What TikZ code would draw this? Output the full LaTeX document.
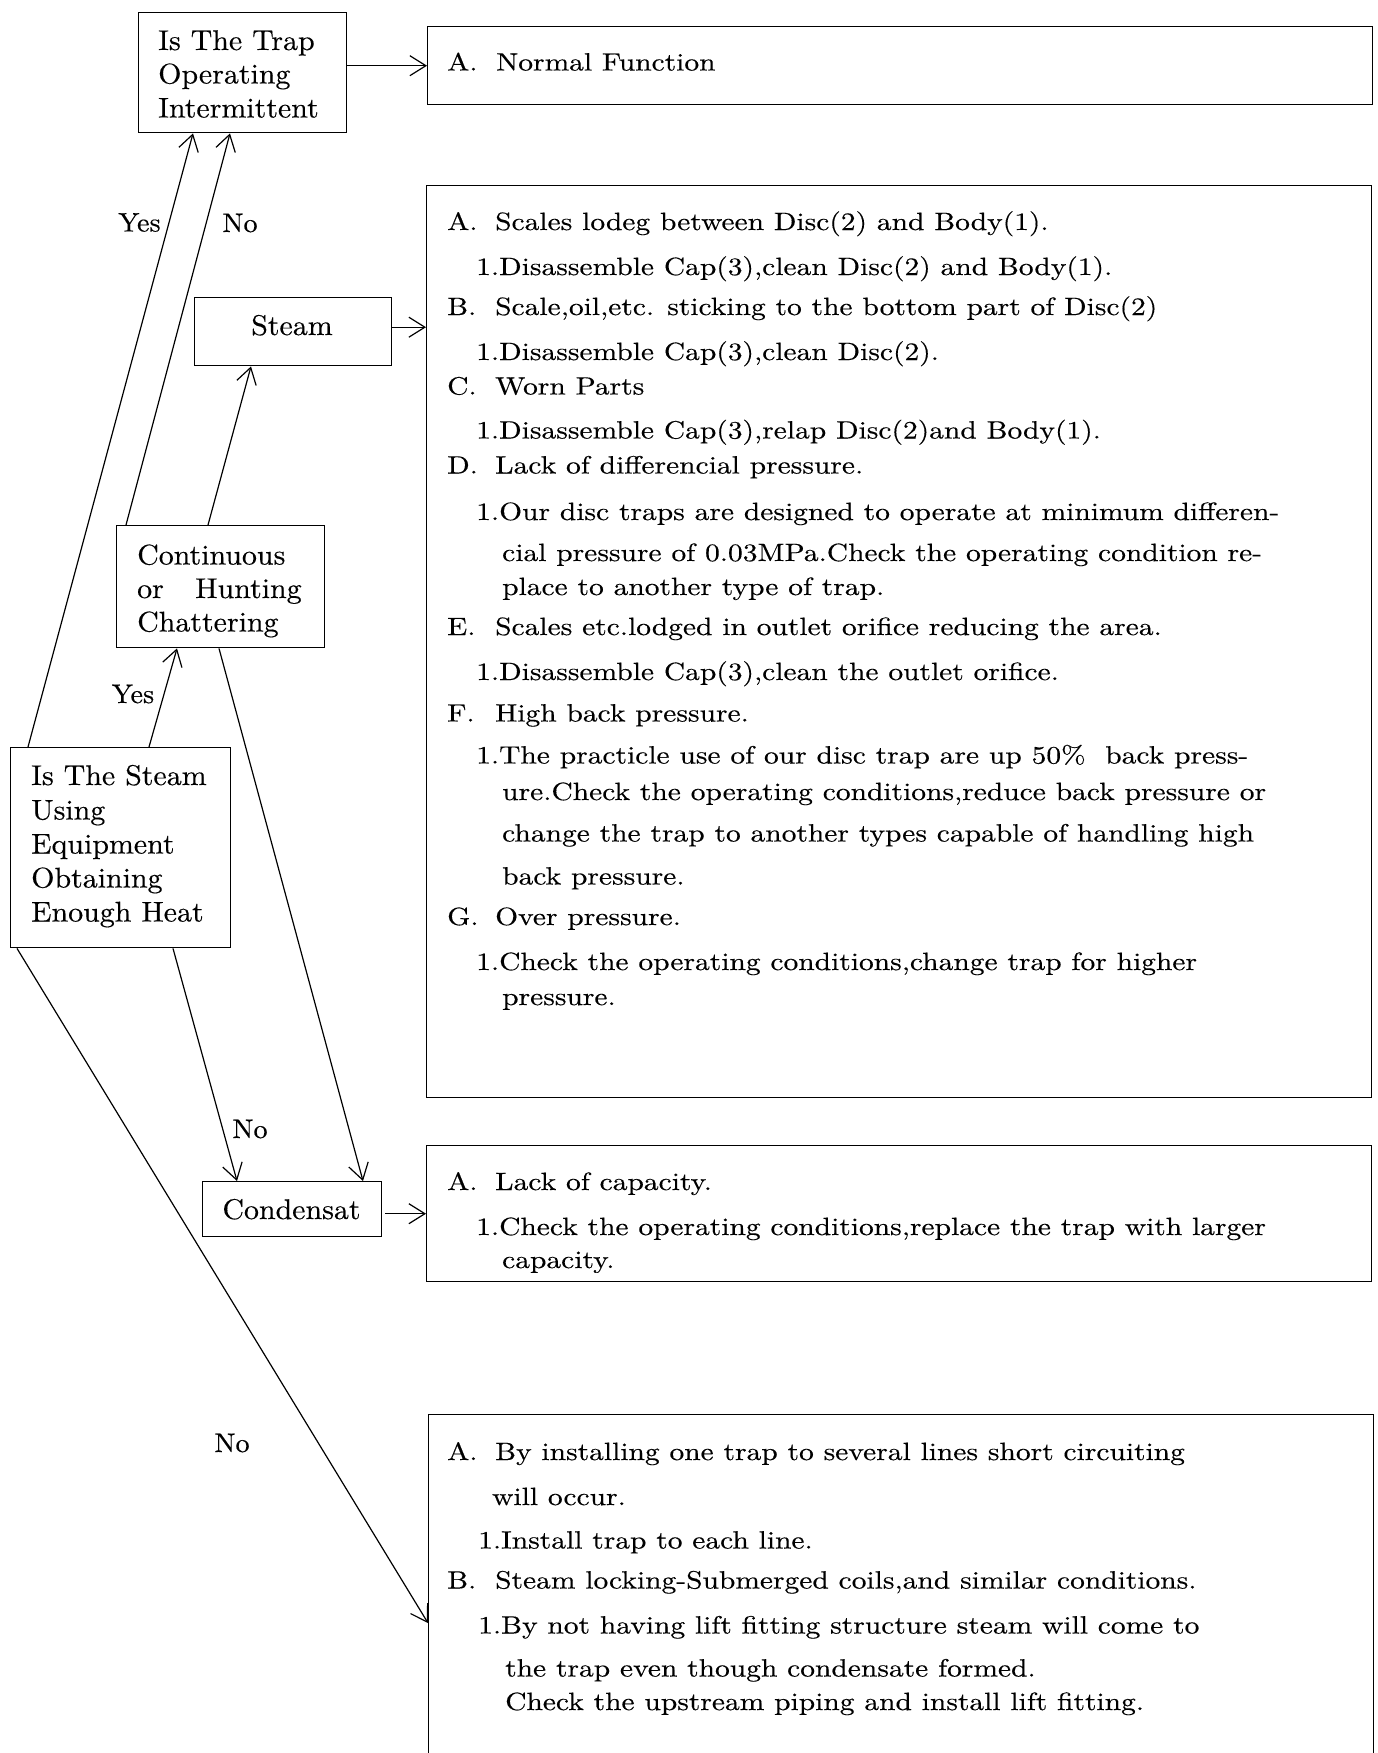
\documentclass[tikz,border=0pt]{standalone}
\usepackage{fontspec}
\newfontfamily\widefont{lmroman10-regular.otf}[FakeStretch=1.18,FakeBold=0.3]
\newfontfamily\boxfont{lmroman10-regular.otf}[FakeStretch=1.05,FakeBold=0.3]
\usetikzlibrary{arrows.meta,calc}
\begin{document}
\begin{tikzpicture}[x=1pt,y=-1pt,
  box/.style={draw, line width=1.4pt, rectangle, inner sep=0pt, anchor=north west},
  conn/.style={line width=1.2pt, -{Straight Barb[length=16pt,width=20pt,line width=1.2pt]}},
  rt/.style={anchor=base west, inner sep=0pt, font=\widefont\fontsize{25}{30}\selectfont},
  lt/.style={anchor=base west, inner sep=0pt, font=\boxfont\fontsize{28.5}{33}\selectfont},
  lab/.style={anchor=center, inner sep=0pt, font=\boxfont\fontsize{26.8}{31}\selectfont},
]
\useasboundingbox (0,0) rectangle (1378,1753);
\clip (0,0) rectangle (1378,1753);

% boxes
\node[box, minimum width=208pt, minimum height=120pt] (trap) at (138,12) {};
\node[box, minimum width=945pt, minimum height=78pt] (normal) at (427,26) {};
\node[box, minimum width=197pt, minimum height=68pt] (steam) at (194,297) {};
\node[box, minimum width=945pt, minimum height=912pt] (bigsteam) at (426,185) {};
\node[box, minimum width=208pt, minimum height=122pt] (cont) at (116,525) {};
\node[box, minimum width=220pt, minimum height=200pt] (usedeq) at (10,747) {};
\node[box, minimum width=179pt, minimum height=55pt] (cond) at (202,1181) {};
\node[box, minimum width=945pt, minimum height=136pt] (bigcond) at (426,1145) {};
\node[box, minimum width=945pt, minimum height=420pt] (bigno) at (428,1414) {};

% left box texts
\node[lt] (trapA) at (158,50) {Is The Trap};
\node[lt] (trapB) at (158,83.5) {Operating};
\node[lt] (trapC) at (158,117.5) {Intermittent};
\node[lt, anchor=base] (steamT) at (292,335) {Steam};
\node[lt] (c1) at (137,564.5) {Continuous};
\node[lt] (c2) at (137,598) {\makebox[58pt][l]{or}Hunting};
\node[lt] (c3) at (137,631.5) {Chattering};
\node[lt] (u1) at (31,785) {Is The Steam};
\node[lt] (u2) at (31,819.5) {Using};
\node[lt] (u3) at (31,853.5) {Equipment};
\node[lt] (u4) at (31,887.5) {Obtaining};
\node[lt] (u5) at (31,921.5) {Enough Heat};
\node[lt, anchor=base] (condT) at (291.5,1219) {Condensat};

% labels
\node[lab] (yes1) at (139.5,222.5) {Yes};
\node[lab] (no1) at (240,223) {No};
\node[lab] (yes2) at (133,694) {Yes};
\node[lab] (no2) at (250,1129) {No};
\node[lab] (no3) at (232,1443) {No};

% normal function
\node[rt] (nf1) at (447,70.5) {\makebox[49pt][l]{A.}Normal Function};

% steam causes
\node[rt] (s1) at (447,230) {\makebox[48pt][l]{A.}Scales lodeg between Disc(2) and Body(1).};
\node[rt] (s2) at (476,275) {1.Disassemble Cap(3),clean Disc(2) and Body(1).};
\node[rt] (s3) at (447,315) {\makebox[48pt][l]{B.}Scale,oil,etc. sticking to the bottom part of Disc(2)};
\node[rt] (s4) at (476,360) {1.Disassemble Cap(3),clean Disc(2).};
\node[rt] (s5) at (447,394.5) {\makebox[48pt][l]{C.}Worn Parts};
\node[rt] (s6) at (476,438.5) {1.Disassemble Cap(3),relap Disc(2)and Body(1).};
\node[rt] (s7) at (447,473.5) {\makebox[48pt][l]{D.}Lack of differencial pressure.};
\node[rt] (s8) at (476,520) {1.Our disc traps are designed to operate at minimum differen-};
\node[rt] (s9) at (502,561) {cial pressure of 0.03MPa.Check the operating condition re-};
\node[rt] (s10) at (502,595) {place to another type of trap.};
\node[rt] (s11) at (447,635) {\makebox[48pt][l]{E.}Scales etc.lodged in outlet orifice reducing the area.};
\node[rt] (s12) at (476,680) {1.Disassemble Cap(3),clean the outlet orifice.};
\node[rt] (s13) at (447,721.5) {\makebox[48pt][l]{F.}High back pressure.};
\node[rt] (s14) at (476,763.5) {1.The practicle use of our disc trap are up 50\%\ \ back press-};
\node[rt] (s15) at (502,800) {ure.Check the operating conditions,reduce back pressure or};
\node[rt] (s16) at (502,841.5) {change the trap to another types capable of handling high};
\node[rt] (s17) at (502,884.5) {back pressure.};
\node[rt] (s18) at (447,925) {\makebox[48pt][l]{G.}Over pressure.};
\node[rt] (s19) at (476,970) {1.Check the operating conditions,change trap for higher};
\node[rt] (s20) at (502,1005) {pressure.};

% condensate causes
\node[rt] (k1) at (447,1190) {\makebox[48pt][l]{A.}Lack of capacity.};
\node[rt] (k2) at (476,1235) {1.Check the operating conditions,replace the trap with larger};
\begin{scope}
\clip (bigcond.north west) rectangle ($(bigcond.south east)+(0,-10)$);
\node[rt] (k3) at (502,1268) {capacity.};
\end{scope}

% not enough heat causes
\node[rt] (n1) at (447,1460) {\makebox[48pt][l]{A.}By installing one trap to several lines short circuiting};
\node[rt] (n2) at (492,1505) {will occur.};
\node[rt] (n3) at (478,1548.5) {1.Install trap to each line.};
\node[rt] (n4) at (447,1588.5) {\makebox[48pt][l]{B.}Steam locking-Submerged coils,and similar conditions.};
\node[rt] (n5) at (478,1633.5) {1.By not having lift fitting structure steam will come to};
\node[rt] (n6) at (505,1676.5) {the trap even though condensate formed.};
\node[rt] (n7) at (505,1710) {Check the upstream piping and install lift fitting.};

% connectors
\draw[conn] (trap.east |- normal.west) -- (normal.west);
\draw[conn] ($(usedeq.north west)+(18,0)$) -- ($(trap.south west)+(55,0)$);
\draw[conn] ($(cont.north west)+(10,0)$) -- ($(trap.south west)+(92,0)$);
\draw[conn] ($(cont.north west)+(92,0)$) -- ($(steam.south west)+(57,0)$);
\draw[conn] ($(steam.east)+(0,-4.5)$) -- ($(steam.east -| bigsteam.west)+(0,-4.5)$);
\draw[conn] ($(usedeq.north west)+(139,0)$) -- ($(cont.south west)+(61,0)$);
\draw[conn] ($(usedeq.south west)+(163,0)$) -- ($(cond.north west)+(35,0)$);
\draw[conn] ($(cont.south west)+(103,0)$) -- ($(cond.north west)+(161,0)$);
\draw[conn, shorten <=3pt] ($(cond.east)+(0,4.5)$) -- ($(cond.east -| bigcond.west)+(0,4.5)$);
\draw[conn] ($(usedeq.south west)+(7,0)$) -- ($(bigno.north west)+(0,209)$);
\end{tikzpicture}
\end{document}
